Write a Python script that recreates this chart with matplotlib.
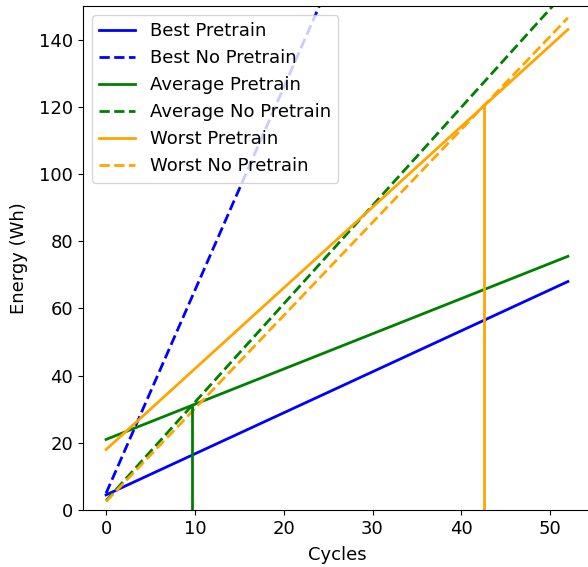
import matplotlib
matplotlib.use("Agg")
import matplotlib.pyplot as plt
import numpy as np

# Data
cycles = [0, 52]
best_pretrain = [4.5, 68.0]
best_no_pretrain = [5.0, 319.0]
avg_pretrain = [21.0, 75.5]
avg_no_pretrain = [2.8, 155.0]
worst_pretrain = [18.0, 143.0]
worst_no_pretrain = [2.5, 146.5]

# break-even markers (cycle, energy)
avg_break = (9.7, 31.2)
worst_break = (42.6, 120.4)

plt.rcParams['font.size'] = 13
plt.rcParams['lines.linewidth'] = 2.0

fig = plt.figure(figsize=(5.88, 5.67), dpi=100)
ax = fig.add_axes([83/588, 57/567, 508/588, 504/567])

ax.plot(cycles, best_pretrain, color='blue', linestyle='-', label='Best Pretrain')
ax.plot(cycles, best_no_pretrain, color='blue', linestyle='--', label='Best No Pretrain')
ax.plot(cycles, avg_pretrain, color='green', linestyle='-', label='Average Pretrain')
ax.plot(cycles, avg_no_pretrain, color='green', linestyle='--', label='Average No Pretrain')
ax.plot(cycles, worst_pretrain, color='orange', linestyle='-', label='Worst Pretrain')
ax.plot(cycles, worst_no_pretrain, color='orange', linestyle='--', label='Worst No Pretrain')

ax.plot([avg_break[0], avg_break[0]], [0, avg_break[1]], color='green', linestyle='-')
ax.plot([worst_break[0], worst_break[0]], [0, worst_break[1]], color='orange', linestyle='-')

ax.set_xlim(-2.6, 54.6)
ax.set_ylim(0, 150)
ax.set_xlabel('Cycles', labelpad=6)
ax.set_ylabel('Energy (Wh)', labelpad=8)
ax.legend(loc='upper left')

fig.savefig('out.png', dpi=100)
